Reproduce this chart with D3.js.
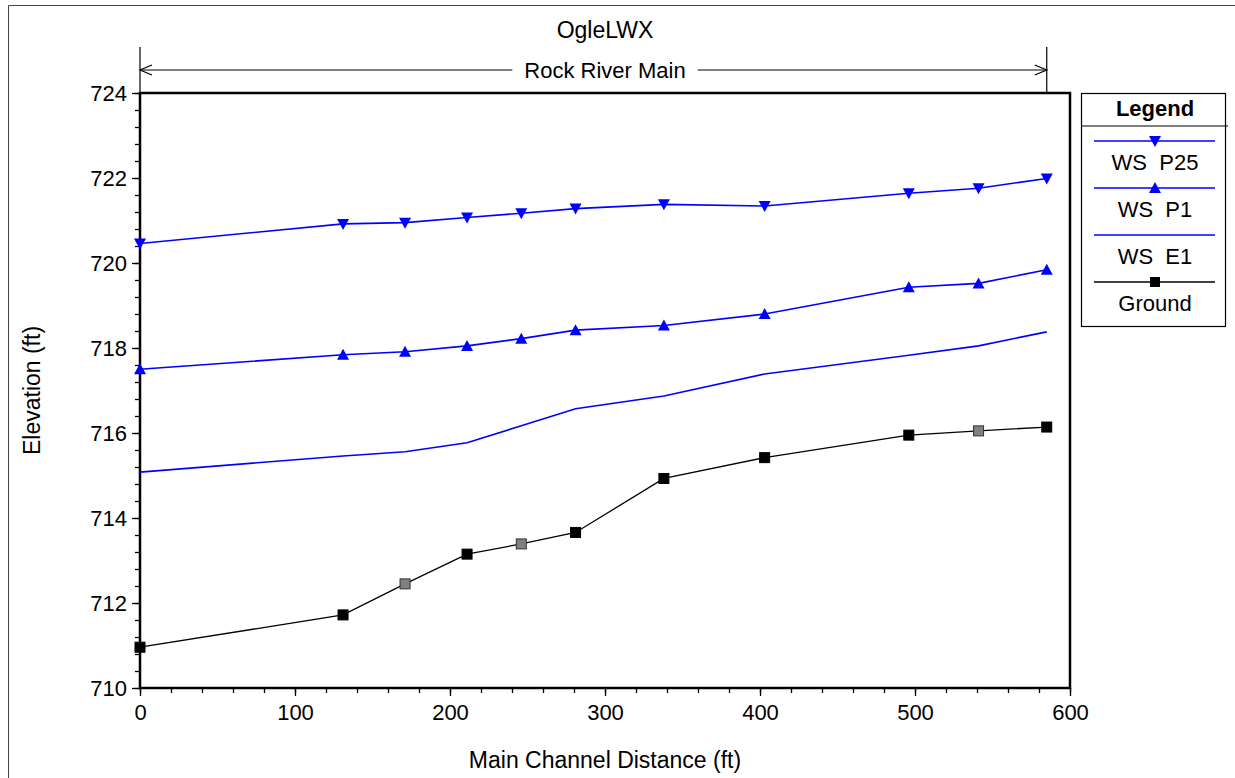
<!DOCTYPE html>
<html>
<head>
<meta charset="utf-8">
<script src="https://cdn.jsdelivr.net/npm/d3@7"></script>
<style>
  body { margin: 0; background: #fff; }
  svg { font-family: "Liberation Sans", Arial, sans-serif; }
</style>
</head>
<body>
<svg width="1235" height="778"></svg>
<script>
// river stations (ft along main channel)
const distance = [0, 131, 171, 211, 246, 281, 338, 403, 496, 541, 585];
const wsP25 = [720.46, 720.92, 720.95, 721.07, 721.17, 721.28, 721.38, 721.34, 721.64, 721.76, 721.99];
const wsP1 = [717.50, 717.84, 717.91, 718.05, 718.22, 718.42, 718.53, 718.80, 719.43, 719.52, 719.84];
const wsE1 = [715.08, 715.46, 715.56, 715.77, 716.17, 716.57, 716.87, 717.39, 717.83, 718.05, 718.38];
const ground = [710.96, 711.72, 712.45, 713.15, 713.39, 713.66, 714.93, 715.42, 715.95, 716.05, 716.14];
// interpolated sections are drawn with grey markers
const groundGrey = [false, false, true, false, true, false, false, false, false, true, false];
const yTicks = [710, 712, 714, 716, 718, 720, 722, 724];
const xTicks = [0, 100, 200, 300, 400, 500, 600];
const legendNames = ['WS  P25', 'WS  P1', 'WS  E1', 'Ground'];

const svg = d3.select('svg');
const pLeft = 140, pRight = 1070, pTop = 93, pBottom = 688;

const x = d3.scaleLinear().domain([0, 600]).range([pLeft, pRight]);
const y = d3.scaleLinear().domain([710, 724]).range([pBottom, pTop]);

// outer frame
svg.append('path')
  .attr('d', 'M8.5,778 V5.5 H1235')
  .attr('fill', 'none').attr('stroke', '#444').attr('stroke-width', 1);

// title
svg.append('text')
  .attr('x', (pLeft + pRight) / 2).attr('y', 38)
  .attr('text-anchor', 'middle')
  .attr('font-size', 23)
  .text('OgleLWX');

// reach bracket
const bx0 = x(distance[0]), bx1 = x(distance[distance.length - 1]), by = 70;
const reachLabel = svg.append('text')
  .attr('x', (pLeft + pRight) / 2).attr('y', by + 8)
  .attr('text-anchor', 'middle')
  .attr('font-size', 22)
  .text('Rock River Main');
const bb = reachLabel.node().getBBox();
const bracket = svg.append('g').attr('stroke', '#000').attr('stroke-width', 1.2).attr('fill', 'none');
bracket.append('line').attr('x1', bx0).attr('x2', bx0).attr('y1', 47).attr('y2', pTop);
bracket.append('line').attr('x1', bx1).attr('x2', bx1).attr('y1', 47).attr('y2', pTop);
bracket.append('line').attr('x1', bx0).attr('x2', bb.x - 12).attr('y1', by).attr('y2', by);
bracket.append('line').attr('x1', bb.x + bb.width + 12).attr('x2', bx1).attr('y1', by).attr('y2', by);
bracket.append('path').attr('d', `M${bx0 + 12},${by - 5} L${bx0},${by} L${bx0 + 12},${by + 5}`);
bracket.append('path').attr('d', `M${bx1 - 12},${by - 5} L${bx1},${by} L${bx1 - 12},${by + 5}`);

// axes: minor ticks first, then major ticks with labels
const yMinor = d3.range(710, 724.001, 0.4);
svg.append('g')
  .attr('transform', `translate(${pLeft},0)`)
  .call(d3.axisLeft(y).tickValues(yMinor).tickSize(5).tickFormat(''))
  .call(g => g.select('.domain').remove())
  .call(g => g.selectAll('line').attr('stroke-width', 1.3));
svg.append('g')
  .attr('transform', `translate(${pLeft},0)`)
  .call(d3.axisLeft(y).tickValues(yTicks).tickSize(8).tickPadding(5))
  .call(g => g.select('.domain').remove())
  .call(g => g.selectAll('line').attr('stroke-width', 1.3))
  .call(g => g.selectAll('text').attr('font-size', 22).attr('font-family', 'Liberation Sans, Arial, sans-serif').attr('fill', '#000'));

const xMinor = d3.range(0, 600.001, 20);
svg.append('g')
  .attr('transform', `translate(0,${pBottom})`)
  .call(d3.axisBottom(x).tickValues(xMinor).tickSize(5).tickFormat(''))
  .call(g => g.select('.domain').remove())
  .call(g => g.selectAll('line').attr('stroke-width', 1.3));
svg.append('g')
  .attr('transform', `translate(0,${pBottom})`)
  .call(d3.axisBottom(x).tickValues(xTicks).tickSize(8).tickPadding(8))
  .call(g => g.select('.domain').remove())
  .call(g => g.selectAll('line').attr('stroke-width', 1.3))
  .call(g => g.selectAll('text').attr('font-size', 22).attr('font-family', 'Liberation Sans, Arial, sans-serif').attr('fill', '#000'));

// plot frame
svg.append('rect')
  .attr('x', pLeft).attr('y', pTop)
  .attr('width', pRight - pLeft).attr('height', pBottom - pTop)
  .attr('fill', 'none').attr('stroke', '#000').attr('stroke-width', 2.5);

// axis titles
svg.append('text')
  .attr('x', (pLeft + pRight) / 2).attr('y', 768)
  .attr('text-anchor', 'middle').attr('font-size', 23)
  .text('Main Channel Distance (ft)');
svg.append('text')
  .attr('transform', `translate(40,${(pTop + pBottom) / 2}) rotate(-90)`)
  .attr('text-anchor', 'middle').attr('font-size', 23)
  .text('Elevation (ft)');

// series
const line = d3.line().x(d => x(d[0])).y(d => y(d[1]));
const pairs = vals => distance.map((d, i) => [d, vals[i]]);

const triDown = 'M-6,-5 L6,-5 L0,6 Z';
const triUp = 'M-6,5 L6,5 L0,-6 Z';

function drawSeries(vals, color, width, marker) {
  svg.append('path').datum(pairs(vals))
    .attr('d', line).attr('fill', 'none')
    .attr('stroke', color).attr('stroke-width', width);
  if (marker) {
    svg.append('g').selectAll('path')
      .data(pairs(vals)).join('path')
      .attr('transform', d => `translate(${x(d[0])},${y(d[1])})`)
      .attr('d', marker).attr('fill', color);
  }
}
drawSeries(wsP25, '#0000ff', 1.6, triDown);
drawSeries(wsP1, '#0000ff', 1.6, triUp);
drawSeries(wsE1, '#0000ff', 1.6, null);
drawSeries(ground, '#000', 1.3, null);
svg.append('g').selectAll('rect')
  .data(pairs(ground)).join('rect')
  .attr('x', d => x(d[0]) - 5).attr('y', d => y(d[1]) - 5)
  .attr('width', 10).attr('height', 10)
  .attr('fill', (d, i) => groundGrey[i] ? '#808080' : '#000')
  .attr('stroke', (d, i) => groundGrey[i] ? '#333' : '#000').attr('stroke-width', 1);

// legend
const lg = svg.append('g');
lg.append('rect').attr('x', 1081.5).attr('y', 93.5).attr('width', 144).attr('height', 233)
  .attr('fill', '#fff').attr('stroke', '#000').attr('stroke-width', 1.2);
lg.append('line').attr('x1', 1081).attr('x2', 1228).attr('y1', 126).attr('y2', 126)
  .attr('stroke', '#000').attr('stroke-width', 1.2);
lg.append('text').attr('x', 1155).attr('y', 116).attr('text-anchor', 'middle')
  .attr('font-size', 22).attr('font-weight', 'bold').text('Legend');
const legendColors = ['#0000ff', '#0000ff', '#0000ff', '#000'];
const legendMarkers = ['down', 'up', null, 'square'];
legendNames.forEach((name, i) => {
  const ly = 141 + i * 47;
  lg.append('line').attr('x1', 1094).attr('x2', 1215).attr('y1', ly).attr('y2', ly)
    .attr('stroke', legendColors[i]).attr('stroke-width', 1.3);
  if (legendMarkers[i] === 'down') lg.append('path').attr('transform', `translate(1155,${ly})`).attr('d', triDown).attr('fill', '#0000ff');
  if (legendMarkers[i] === 'up') lg.append('path').attr('transform', `translate(1155,${ly})`).attr('d', triUp).attr('fill', '#0000ff');
  if (legendMarkers[i] === 'square') lg.append('rect').attr('x', 1150).attr('y', ly - 5).attr('width', 10).attr('height', 10).attr('fill', '#000');
  lg.append('text').attr('x', 1155).attr('y', ly + 29).attr('text-anchor', 'middle')
    .attr('font-size', 22).style('white-space', 'pre').text(name);
});
</script>
</body>
</html>
